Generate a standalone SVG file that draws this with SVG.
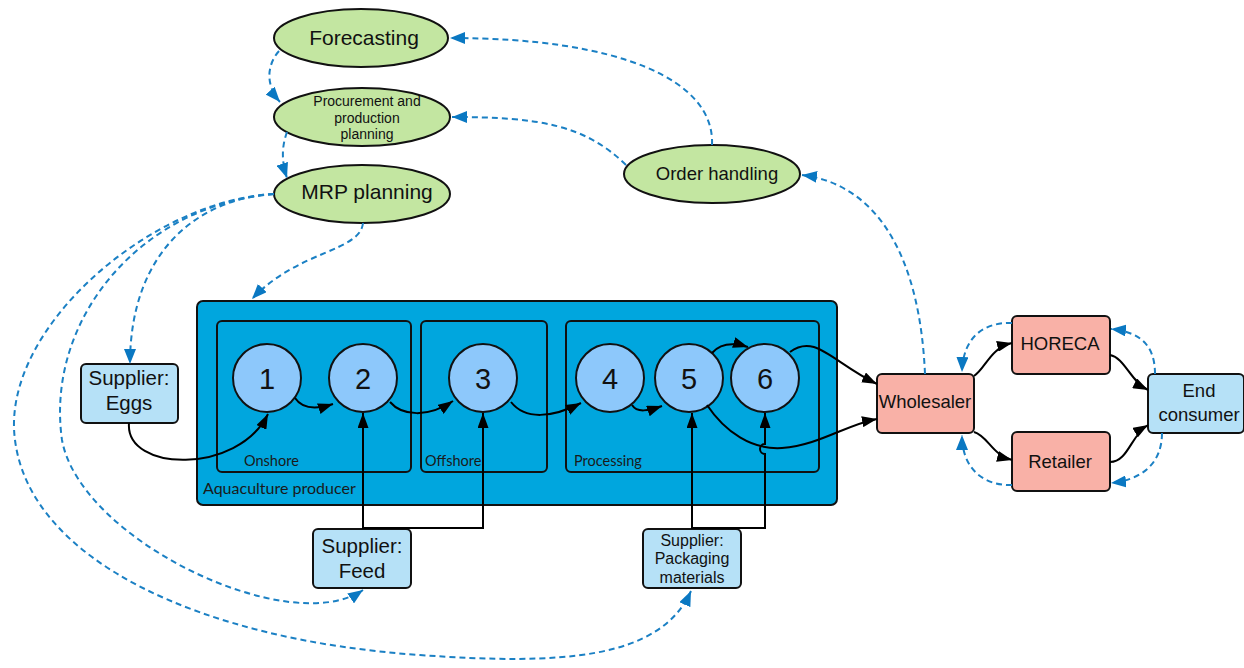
<svg xmlns="http://www.w3.org/2000/svg" width="1244" height="668" viewBox="0 0 1244 668">
  <style>
    .sans { font-family: "Liberation Sans", Arial, sans-serif; fill: #111; text-anchor: middle; }
    .lbl { font-family: Lato, "Open Sans", sans-serif; fill: #1a1a1a; }
    .task { fill: #c3e6a1; stroke: #111; stroke-width: 2; }
    .stage { fill: #8dc8fb; stroke: #111; stroke-width: 2; }
    .supplier { fill: #b6e1f7; stroke: #111; stroke-width: 2; }
    .trade { fill: #f9b1a7; stroke: #111; stroke-width: 2; }
    .area { fill: #00a6de; stroke: #111; stroke-width: 2; }
    .flow { fill: none; stroke: #000; stroke-width: 2; }
    .info { fill: none; stroke: #1b80c4; stroke-width: 2; stroke-dasharray: 6 4; }
  </style>
  <defs>
    <marker id="arrow" markerUnits="userSpaceOnUse" markerWidth="15" markerHeight="11" refX="15" refY="5.5" orient="auto">
      <path d="M0,0 L15,5.5 L0,11 z" fill="#000"/>
    </marker>
    <marker id="arrowBlue" markerUnits="userSpaceOnUse" markerWidth="15" markerHeight="12" refX="15" refY="6" orient="auto">
      <path d="M0,0 L15,6 L0,12 z" fill="#0a78c2"/>
    </marker>
  </defs>

  <!-- Producer container with its three sites -->
  <g id="aquaculture-producer">
    <rect class="area" x="197" y="301" width="640" height="204" rx="6"/>
    <text class="lbl" x="203" y="494" font-size="16">Aquaculture producer</text>
  </g>
  <g id="onshore">
    <rect class="area" x="217" y="321" width="194" height="151" rx="5"/>
    <text class="lbl" x="244" y="466" font-size="14.5">Onshore</text>
  </g>
  <g id="offshore">
    <rect class="area" x="421" y="321" width="126" height="151" rx="5"/>
    <text class="lbl" x="425" y="466" font-size="14.5">Offshore</text>
  </g>
  <g id="processing">
    <rect class="area" x="566" y="321" width="253" height="151" rx="5"/>
    <text class="lbl" x="574" y="466" font-size="14.5">Processing</text>
  </g>

  <!-- Planning tasks -->
  <g id="forecasting">
    <ellipse class="task" cx="361" cy="38" rx="87" ry="29"/>
    <text class="sans" x="364" y="45" font-size="21">Forecasting</text>
  </g>
  <g id="procurement-planning">
    <ellipse class="task" cx="362" cy="117" rx="88" ry="29"/>
    <text class="sans" x="367" y="106" font-size="14">Procurement and</text>
    <text class="sans" x="367" y="123" font-size="14">production</text>
    <text class="sans" x="367" y="139" font-size="14">planning</text>
  </g>
  <g id="mrp-planning">
    <ellipse class="task" cx="362" cy="194" rx="88" ry="29"/>
    <text class="sans" x="367" y="199" font-size="21">MRP planning</text>
  </g>
  <g id="order-handling">
    <ellipse class="task" cx="712" cy="174" rx="88" ry="29"/>
    <text class="sans" x="717" y="180" font-size="18.5">Order handling</text>
  </g>

  <!-- Production stages -->
  <g id="stage-1">
    <circle class="stage" cx="267" cy="378" r="34"/>
    <text class="sans" x="267" y="389" font-size="29">1</text>
  </g>
  <g id="stage-2">
    <circle class="stage" cx="363" cy="378" r="34"/>
    <text class="sans" x="363" y="389" font-size="29">2</text>
  </g>
  <g id="stage-3">
    <circle class="stage" cx="483" cy="378" r="34"/>
    <text class="sans" x="483" y="389" font-size="29">3</text>
  </g>
  <g id="stage-4">
    <circle class="stage" cx="610" cy="378" r="34"/>
    <text class="sans" x="610" y="389" font-size="29">4</text>
  </g>
  <g id="stage-5">
    <circle class="stage" cx="689" cy="378" r="34"/>
    <text class="sans" x="689" y="389" font-size="29">5</text>
  </g>
  <g id="stage-6">
    <circle class="stage" cx="765" cy="378" r="34"/>
    <text class="sans" x="765" y="389" font-size="29">6</text>
  </g>

  <!-- Suppliers -->
  <g id="supplier-eggs">
    <rect class="supplier" x="81" y="364" width="97" height="59" rx="5"/>
    <text class="sans" x="129" y="385" font-size="20.5">Supplier:</text>
    <text class="sans" x="129" y="410" font-size="20.5">Eggs</text>
  </g>
  <g id="supplier-feed">
    <rect class="supplier" x="313" y="529" width="98" height="59" rx="5"/>
    <text class="sans" x="362" y="553" font-size="20.5">Supplier:</text>
    <text class="sans" x="362" y="578" font-size="20.5">Feed</text>
  </g>
  <g id="supplier-packaging">
    <rect class="supplier" x="643" y="529" width="98" height="59" rx="5"/>
    <text class="sans" x="692" y="546" font-size="16">Supplier:</text>
    <text class="sans" x="692" y="564" font-size="16">Packaging</text>
    <text class="sans" x="692" y="583" font-size="16">materials</text>
  </g>

  <!-- Distribution chain -->
  <g id="wholesaler">
    <rect class="trade" x="877" y="374" width="97" height="59" rx="5"/>
    <text class="sans" x="925" y="408" font-size="18.5">Wholesaler</text>
  </g>
  <g id="horeca">
    <rect class="trade" x="1012" y="316" width="98" height="58" rx="5"/>
    <text class="sans" x="1060" y="350" font-size="18.5">HORECA</text>
  </g>
  <g id="retailer">
    <rect class="trade" x="1012" y="432" width="98" height="59" rx="5"/>
    <text class="sans" x="1060" y="468" font-size="18.5">Retailer</text>
  </g>
  <g id="end-consumer">
    <rect class="supplier" x="1148" y="374" width="96" height="59" rx="5"/>
    <text class="sans" x="1199" y="397" font-size="18.5">End</text>
    <text class="sans" x="1199" y="421" font-size="18.5">consumer</text>
  </g>

  <g id="connectors">
    <!-- material flow -->
    <path class="flow" d="M129,423 C125,472 238,475 268,414" marker-end="url(#arrow)"/>
    <path class="flow" d="M295,398 C303,410 318,409 333,404" marker-end="url(#arrow)"/>
    <path class="flow" d="M390,402 C402,416 428,418 453,401" marker-end="url(#arrow)"/>
    <path class="flow" d="M511,402 C525,420 552,418 581,403" marker-end="url(#arrow)"/>
    <path class="flow" d="M632,405 C637,413 648,411 662,406" marker-end="url(#arrow)"/>
    <path class="flow" d="M712,353 C720,344 732,342 748,347" marker-end="url(#arrow)"/>
    <path class="flow" d="M790,352 C815,333 832,362 877,384" marker-end="url(#arrow)"/>
    <path class="flow" d="M707,405 C725,432 752,450 782,448 C820,445 845,425 877,419" marker-end="url(#arrow)"/>
    <path class="flow" d="M363,529 L363,413" marker-end="url(#arrow)"/>
    <path class="flow" d="M363,528 L483,528 L483,413" marker-end="url(#arrow)"/>
    <path class="flow" d="M692,529 L692,413" marker-end="url(#arrow)"/>
    <path class="flow" d="M692,528 L765,528 L765,454 A5,5 0 0 1 765,444 L765,413" marker-end="url(#arrow)"/>
    <path class="flow" d="M974,376 C986,368 990,348 1012,343" marker-end="url(#arrow)"/>
    <path class="flow" d="M974,432 C988,436 992,455 1012,460" marker-end="url(#arrow)"/>
    <path class="flow" d="M1110,355 C1125,358 1130,381 1148,390" marker-end="url(#arrow)"/>
    <path class="flow" d="M1110,462 C1128,462 1131,435 1148,425" marker-end="url(#arrow)"/>

    <!-- information flow -->
    <path class="info" d="M712,145 C715,80 620,38 450,38" marker-end="url(#arrowBlue)"/>
    <path class="info" d="M626,165 C585,125 540,117 452,117" marker-end="url(#arrowBlue)"/>
    <path class="info" d="M925,374 C920,260 880,185 802,175" marker-end="url(#arrowBlue)"/>
    <path class="info" d="M279,51 C266,66 266,86 280,102" marker-end="url(#arrowBlue)"/>
    <path class="info" d="M287,132 C282,146 281,160 287,178" marker-end="url(#arrowBlue)"/>
    <path class="info" d="M363,223 C360,252 298,250 252,299" marker-end="url(#arrowBlue)"/>
    <path class="info" d="M274,194 C200,198 130,250 130,364" marker-end="url(#arrowBlue)"/>
    <path class="info" d="M274,194 C140,205 45,320 62,440 C80,540 290,640 363,590" marker-end="url(#arrowBlue)"/>
    <path class="info" d="M274,194 C150,200 0,330 15,440 C30,560 200,640 420,655 C560,665 660,660 691,591" marker-end="url(#arrowBlue)"/>
    <path class="info" d="M1012,323 C985,322 963,336 962,372" marker-end="url(#arrowBlue)"/>
    <path class="info" d="M1155,374 C1155,345 1140,332 1111,329" marker-end="url(#arrowBlue)"/>
    <path class="info" d="M1162,433 C1162,465 1140,480 1111,483" marker-end="url(#arrowBlue)"/>
    <path class="info" d="M1012,485 C985,486 962,470 962,435" marker-end="url(#arrowBlue)"/>
  </g>
</svg>
